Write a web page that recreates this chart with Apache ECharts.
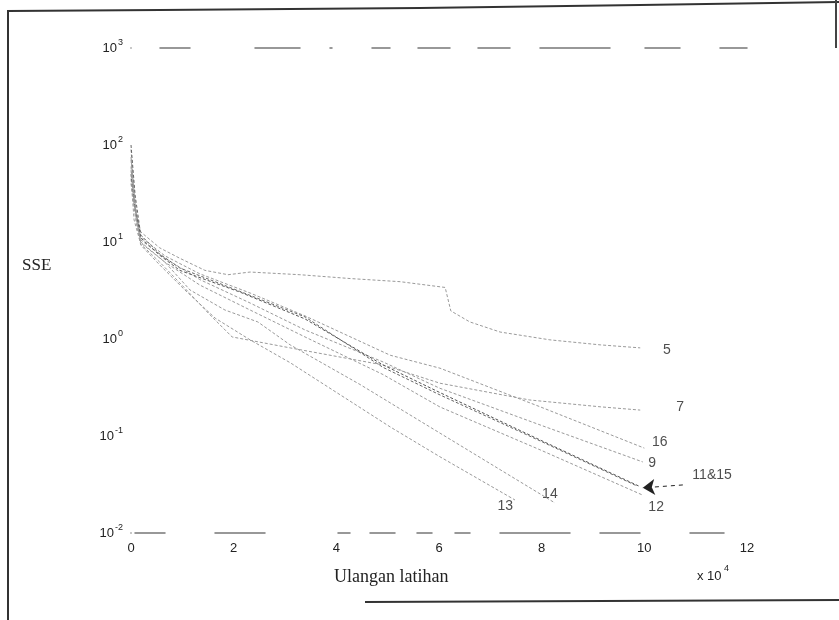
<!DOCTYPE html>
<html style="height: 100%">
<head>
    <meta charset="utf-8">
    <script type="text/javascript" src="https://cdn.jsdelivr.net/npm/echarts@6/dist/echarts.min.js"></script>
</head>
<body style="height: 100%; margin: 0; background: #fff">
    <div id="sseChart" style="height: 620px; width: 839px;"></div>

    <script type="text/javascript">
        // ulangan latihan (x 10^4) dan SSE
        var line5 = [[0, 60], [0.06, 24], [0.19, 12.7], [0.56, 8.7], [0.95, 6.8], [1.44, 5.1], [1.89, 4.6], [2.32, 4.9], [3.29, 4.6], [4.27, 4.2], [5.24, 3.9], [6.12, 3.4], [6.23, 1.95], [6.6, 1.5], [7.19, 1.18], [8.16, 0.98], [9.14, 0.87], [9.92, 0.81]];
        var line7 = [[0, 45], [0.06, 16.9], [0.19, 9.5], [0.56, 6.2], [0.99, 3.6], [1.54, 1.77], [1.97, 1.05], [3.1, 0.81], [4.91, 0.54], [6.02, 0.35], [7.77, 0.235], [9.14, 0.2], [9.92, 0.185]];
        var line16 = [[0, 90], [0.08, 24], [0.19, 11.3], [0.66, 7.2], [1.34, 4.7], [2.32, 2.98], [3.39, 1.73], [5.05, 0.68], [6.02, 0.5], [7.97, 0.2], [10.0, 0.075]];
        var line9 = [[0, 70], [0.1, 20.4], [0.19, 10.5], [0.66, 6.8], [1.34, 4.1], [2.32, 2.35], [3.39, 1.24], [4.91, 0.58], [6.02, 0.31], [7.97, 0.13], [9.97, 0.054]];
        var line11 = [[0, 50], [0.08, 21.4], [0.19, 11.0], [0.56, 7.3], [0.95, 5.1], [2.12, 3.05], [3.39, 1.61], [4.91, 0.54], [6.02, 0.28], [7.97, 0.091], [9.92, 0.030]];
        var line15 = [[0, 100], [0.08, 30.5], [0.19, 11.8], [0.56, 7.5], [0.95, 5.4], [2.12, 3.1], [3.39, 1.69], [4.91, 0.51], [6.02, 0.265], [7.97, 0.089], [9.86, 0.0305]];
        var line12 = [[0, 75], [0.1, 19.0], [0.19, 10.0], [0.66, 6.2], [1.34, 3.6], [2.32, 1.99], [3.39, 1.05], [4.91, 0.43], [6.02, 0.199], [7.97, 0.072], [9.96, 0.0247]];
        var line14 = [[0, 55], [0.1, 17.7], [0.19, 9.8], [0.66, 6.2], [1.15, 3.2], [1.83, 1.99], [2.47, 1.5], [3.1, 0.87], [4.46, 0.34], [6.02, 0.107], [7.19, 0.045], [8.26, 0.0204]];
        var line13 = [[0, 40], [0.1, 16.1], [0.19, 9.3], [0.56, 5.8], [1.05, 3.2], [1.64, 1.64], [2.32, 0.98], [3.1, 0.57], [5.05, 0.124], [6.02, 0.061], [7.48, 0.0219]];

        // nomor kurva dan panah 11&15
        var curveTags = [[10.44, 0.77, '5'], [10.7, 0.2, '7'], [10.3, 0.087, '16'], [10.15, 0.052, '9'], [11.32, 0.0396, '11&15'], [10.23, 0.0185, '12'], [7.29, 0.019, '13'], [8.16, 0.0252, '14']];
        var arrowFrom = [10.75, 0.0313];
        var arrowTo = [9.97, 0.0292];

        var xTicks = [0, 2, 4, 6, 8, 10, 12];

        var chart = echarts.init(document.getElementById('sseChart'));

        function curve(name, data, color) {
            return {
                name: name,
                type: 'line',
                data: data,
                showSymbol: false,
                silent: true,
                lineStyle: { color: color || '#9a9a9a', width: 1, type: [3, 2] }
            };
        }

        var sansFont = '"Liberation Sans", Arial, sans-serif';
        var serifFont = '"Liberation Serif", "Times New Roman", serif';

        var option = {
            animation: false,
            backgroundColor: '#fff',
            grid: { left: 131, right: 92, top: 48, bottom: 87 },
            xAxis: [{
                type: 'value',
                min: 0,
                max: 12,
                interval: 2,
                axisLine: { show: true, lineStyle: { color: '#777', width: 1.5, type: [0, 4, 30, 50, 50, 73, 12, 20, 25, 22, 15, 23, 15, 30, 70, 30, 40, 50, 30] } },
                axisTick: { show: false },
                splitLine: { show: false },
                axisLabel: {
                    margin: 9,
                    fontFamily: sansFont,
                    fontSize: 13,
                    color: '#222',
                    formatter: function (v) { return xTicks.indexOf(v) >= 0 ? String(v) : ''; }
                }
            }, {
                type: 'value',
                position: 'top',
                min: 0,
                max: 12,
                interval: 2,
                axisLine: { show: true, lineStyle: { color: '#777', width: 1.5, type: [0, 29, 30, 65, 45, 30, 2, 40, 18, 28, 32, 28, 32, 30, 70, 35, 35, 40, 25] } },
                axisTick: { show: false },
                axisLabel: { show: false },
                splitLine: { show: false }
            }],
            yAxis: {
                type: 'log',
                logBase: 10,
                min: 0.01,
                max: 1000,
                axisLine: { show: false },
                axisTick: { show: false },
                splitLine: { show: false },
                axisLabel: {
                    margin: 8,
                    color: '#222',
                    formatter: function (v) {
                        return '{b|10}{s|' + Math.round(Math.log10(v)) + '}';
                    },
                    rich: {
                        b: { fontFamily: sansFont, fontSize: 13, color: '#222' },
                        s: { fontFamily: sansFont, fontSize: 9, color: '#222', padding: [0, 0, 11, 1] }
                    }
                }
            },
            series: [
                curve('5', line5),
                curve('7', line7),
                curve('16', line16),
                curve('9', line9),
                curve('11', line11, '#555'),
                curve('15', line15, '#666'),
                curve('12', line12),
                curve('14', line14),
                curve('13', line13),
                {
                    type: 'scatter',
                    data: curveTags,
                    symbolSize: 0,
                    silent: true,
                    label: {
                        show: true,
                        position: 'inside',
                        fontFamily: sansFont,
                        fontSize: 14,
                        color: '#222',
                        formatter: function (p) { return p.data[2]; }
                    },
                    markLine: {
                        silent: true,
                        symbol: ['none', 'arrow'],
                        symbolSize: 12,
                        label: { show: false },
                        lineStyle: { color: '#222', width: 1, type: [4, 4] },
                        itemStyle: { color: '#111' },
                        data: [[{ coord: arrowFrom }, { coord: arrowTo }]]
                    }
                }
            ],
            graphic: [
                { type: 'text', left: 22, top: 257, style: { text: 'SSE', font: '17px ' + serifFont, fill: '#222' } },
                { type: 'text', left: 334, top: 568, style: { text: 'Ulangan latihan', font: '18px ' + serifFont, fill: '#222' } },
                { type: 'text', left: 697, top: 570, style: { text: 'x 10', font: '13px ' + sansFont, fill: '#222' } },
                { type: 'text', left: 724, top: 564, style: { text: '4', font: '9px ' + sansFont, fill: '#222' } },
                // tepi hasil pindaian
                { type: 'polyline', shape: { points: [[8, 620], [8, 11], [160, 10], [420, 8], [640, 5], [839, 2]] }, style: { stroke: '#333', lineWidth: 2, fill: null } },
                { type: 'line', shape: { x1: 836, y1: 0, x2: 836, y2: 48 }, style: { stroke: '#444', lineWidth: 2 } },
                { type: 'line', shape: { x1: 365, y1: 602, x2: 839, y2: 600 }, style: { stroke: '#333', lineWidth: 2 } }
            ]
        };

        chart.setOption(option);
    </script>
</body>
</html>
